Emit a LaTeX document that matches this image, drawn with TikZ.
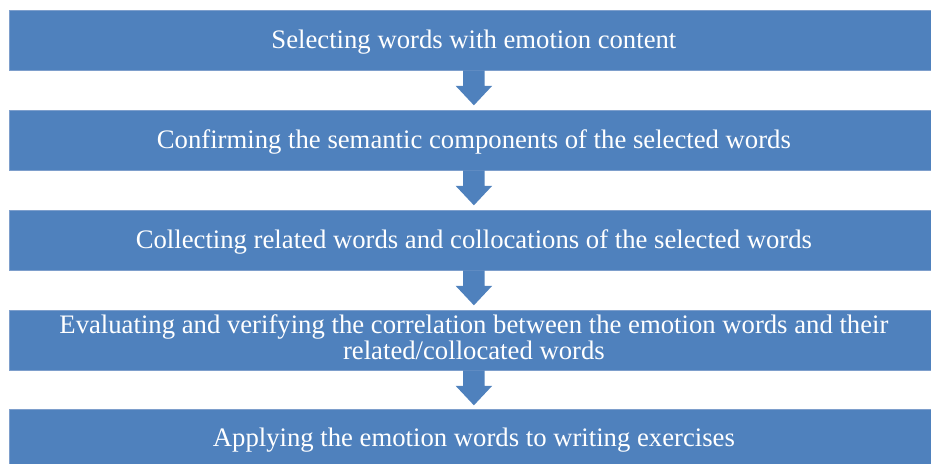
\documentclass[tikz,border=0pt]{standalone}
\usepackage{fontspec}
\setmainfont{Liberation Serif}
\usetikzlibrary{calc}
\definecolor{stepfill}{HTML}{4F81BD}
\definecolor{stepedge}{HTML}{7E9FCC}
\begin{document}
\begin{tikzpicture}[x=1pt,y=-1pt,
  stepbox/.style={draw=stepedge,line width=0.8pt,fill=stepfill,minimum width=929pt,
    minimum height=60pt,inner sep=0pt,anchor=north west},
  steptext/.style={text=white,font=\fontsize{26.7}{26}\selectfont,inner sep=0pt,
    anchor=base,align=center},
  flowarrow/.style={fill=stepfill,draw=none}]
\useasboundingbox (0,0) rectangle (931,463);
% step boxes
\node[stepbox] (s1) at (9,10) {};
\node[stepbox] (s2) at (9,110) {};
\node[stepbox] (s3) at (9,210) {};
\node[stepbox] (s4) at (9,310) {};
\node[stepbox,minimum height=70pt] (s5) at (9,409) {};
% step captions, placed on their baselines
\node[steptext] (t1) at ($(s1.north)+(0,38.3)$) {Selecting words with emotion content};
\node[steptext] (t2) at ($(s2.north)+(0,38.3)$) {Confirming the semantic components of the selected words};
\node[steptext] (t3) at ($(s3.north)+(0,38.3)$) {Collecting related words and collocations of the selected words};
\node[steptext] (t4) at ($(s4.north)+(0,23.3)$) {Evaluating and verifying the correlation between the emotion words and their};
\node[steptext] (t4b) at ($(s4.north)+(0,49.3)$) {related/collocated words};
\node[steptext] (t5) at ($(s5.north)+(0,37.7)$) {Applying the emotion words to writing exercises};
% block arrows between consecutive steps
\foreach \a in {s1,s2,s3,s4}{
  \fill[flowarrow] ($(\a.south)+(-10.8,-0.5)$) -- ++(21.6,0) -- ++(0,15.5) -- ++(7.5,0)
    -- ($(\a.south)+(0,34.5)$) -- ($(\a.south)+(-18.3,15)$) -- ++(7.5,0) -- cycle;
}
\end{tikzpicture}
\end{document}
